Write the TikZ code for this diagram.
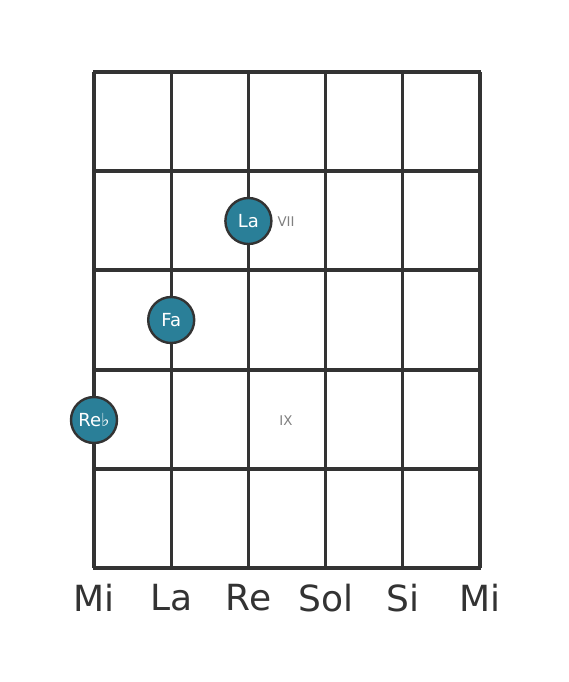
\documentclass[tikz,border=0pt]{standalone}
\usepackage{fontspec}
\setmainfont{DejaVu Sans}
\definecolor{grid}{HTML}{333333}
\definecolor{dotfill}{HTML}{2A7F98}
\definecolor{fretlbl}{HTML}{808080}
\begin{document}
\begin{tikzpicture}[x=0.75pt,y=-0.75pt,
  stringline/.style={draw=grid,line width=2.4pt},
  fretline/.style={draw=grid,line width=3pt},
  edgeline/.style={draw=grid,line width=3.6pt},
  notedot/.style={circle,draw=grid,line width=1.8pt,fill=dotfill,minimum size=46*0.75pt,inner sep=0pt,text=white,font=\fontsize{13.5}{15}\selectfont},
  fretnum/.style={text=fretlbl,font=\fontsize{10}{12}\selectfont},
  strname/.style={text=grid,font=\fontsize{27}{30}\selectfont}]
\useasboundingbox[fill=white] (0,0) rectangle (568,682);
% strings
\foreach \x in {94,171.2,248.4,325.6,402.8,480}
  \draw[stringline] (\x,72) -- (\x,568);
% frets
\foreach \y in {171.2,270.4,369.6,468.8}
  \draw[fretline] (94,\y) -- (480,\y);
\draw[edgeline] (92.8,72) -- (481.2,72);
\draw[edgeline] (92.8,568) -- (481.2,568);
% dots
\node[notedot] (la) at (248.4,221) {La};
\node[notedot] (fa) at (171.2,320) {Fa};
\node[notedot] (reb) at (94,420) {Re♭};
% fret numbers
\node[fretnum] (vii) at (286,222) {VII};
\node[fretnum] (ix) at (286,421) {IX};
% string names
\node[strname] (s1) at (94,598) {Mi};
\node[strname] (s2) at (171.2,598) {La};
\node[strname] (s3) at (248.4,598) {Re};
\node[strname] (s4) at (325.6,598) {Sol};
\node[strname] (s5) at (402.8,598) {Si};
\node[strname] (s6) at (480,598) {Mi};
\end{tikzpicture}
\end{document}
